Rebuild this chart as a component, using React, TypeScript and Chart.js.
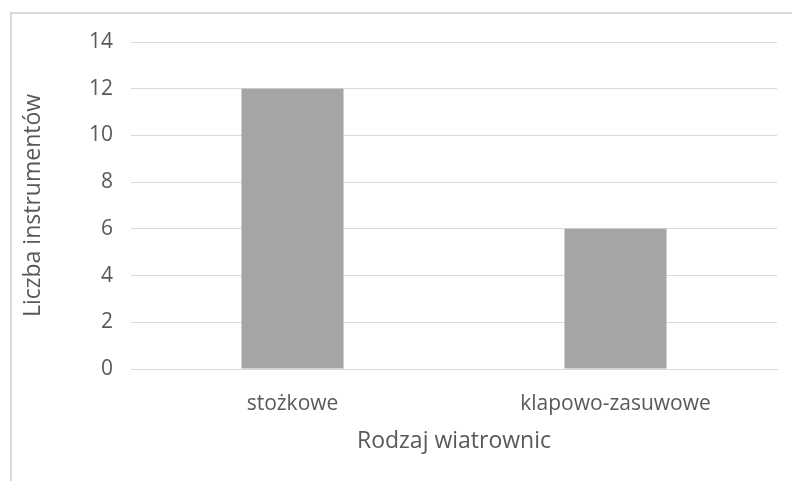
import React, { useEffect, useRef } from "react";
import { Chart, registerables } from "chart.js";

Chart.register(...registerables);

const categories = ["stożkowe", "klapowo-zasuwowe"];
const values = [12, 6];
const yTitle = "Liczba instrumentów";
const xTitle = "Rodzaj wiatrownic";

const FONT = "'Open Sans', sans-serif";
const TEXT = "#595959";
const GRID = "#D9D9D9";

export default function App() {
  const ref = useRef<HTMLCanvasElement | null>(null);
  useEffect(() => {
    if (!ref.current) return;
    const chart = new Chart(ref.current, {
      type: "bar",
      data: {
        labels: categories,
        datasets: [
          {
            data: values,
            backgroundColor: "#A5A5A5",
            categoryPercentage: 1,
            barPercentage: 0.316,
          },
        ],
      },
      options: {
        animation: false,
        responsive: false,
        maintainAspectRatio: false,
        layout: { padding: { left: 0, right: 15, top: 42, bottom: 0 } },
        plugins: { legend: { display: false }, tooltip: { enabled: false } },
        scales: {
          x: {
            grid: { display: false, drawTicks: false },
            border: { display: true, color: GRID, width: 1 },
            ticks: { color: TEXT, font: { family: FONT, size: 21 }, padding: 22 },
            title: {
              display: true,
              text: xTitle,
              color: TEXT,
              font: { family: FONT, size: 23 },
              padding: { top: 0, bottom: 26 },
            },
            afterFit: (s: any) => {
              s.height = 112;
            },
          },
          y: {
            min: 0,
            max: 14,
            grid: { color: GRID, drawTicks: false },
            border: { display: false },
            ticks: { stepSize: 2, color: TEXT, font: { family: FONT, size: 21 }, padding: 18 },
            title: {
              display: true,
              text: yTitle,
              color: TEXT,
              font: { family: FONT, size: 23 },
              padding: { top: 20, bottom: 0 },
            },
            afterFit: (s: any) => {
              s.width = 131;
            },
          },
        },
      },
    });
    return () => chart.destroy();
  }, []);
  return (
    <div
      style={{
        position: "fixed",
        left: 0,
        top: 0,
        width: 792,
        height: 481,
        overflow: "hidden",
        background: "#fff",
      }}
    >
      <div
        style={{
          position: "absolute",
          left: 10,
          top: 12,
          width: 900,
          height: 600,
          borderLeft: "2px solid #D9D9D9",
          borderTop: "2px solid #D9D9D9",
        }}
      />
      <canvas ref={ref} width={792} height={481} style={{ position: "absolute", left: 0, top: 0 }} />
    </div>
  );
}
